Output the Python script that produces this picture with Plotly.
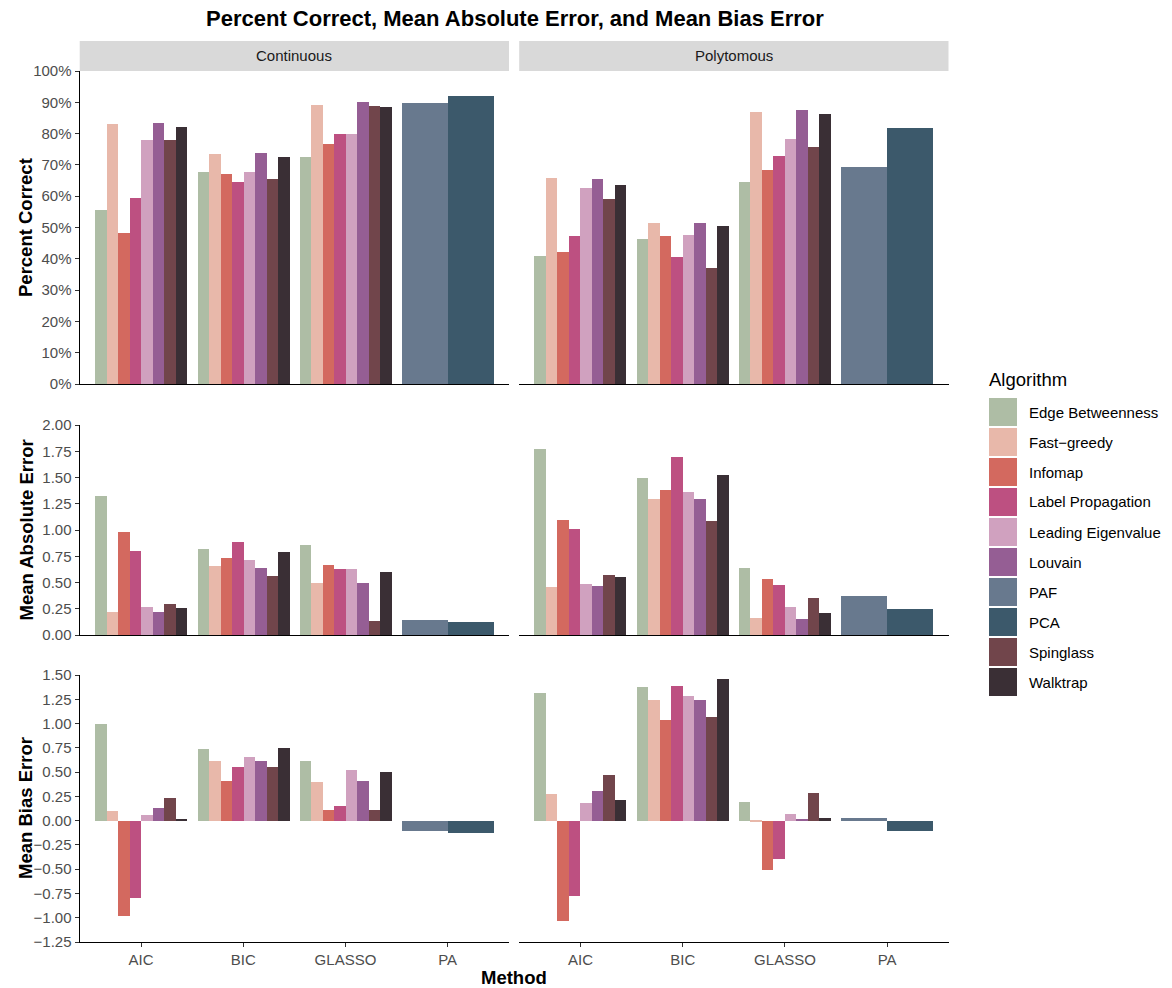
import pandas as pd
import plotly.graph_objects as go

# ---- categories -----------------------------------------------------------
methods = ["AIC", "BIC", "GLASSO", "PA"]
data_types = ["Continuous", "Polytomous"]
community_algorithms = [
    "Edge Betweenness", "Fast\u2212greedy", "Infomap", "Label Propagation",
    "Leading Eigenvalue", "Louvain", "Spinglass", "Walktrap",
]
factor_algorithms = ["PAF", "PCA"]
legend_order = [
    "Edge Betweenness", "Fast\u2212greedy", "Infomap", "Label Propagation",
    "Leading Eigenvalue", "Louvain", "PAF", "PCA", "Spinglass", "Walktrap",
]

# ---- percent correct (%), community algorithms in the order above ----------
pct_continuous_aic = [55.6, 83.1, 48.2, 59.4, 78.0, 83.4, 78.0, 82.1]
pct_continuous_bic = [67.7, 73.5, 67.1, 64.5, 67.7, 73.8, 65.5, 72.5]
pct_continuous_glasso = [72.5, 89.1, 76.7, 79.9, 79.9, 90.1, 88.8, 88.5]
pct_continuous_pa = [89.8, 92.0]

pct_polytomous_aic = [40.9, 65.8, 42.2, 47.3, 62.6, 65.5, 59.1, 63.6]
pct_polytomous_bic = [46.3, 51.4, 47.3, 40.6, 47.6, 51.4, 37.1, 50.5]
pct_polytomous_glasso = [64.5, 86.9, 68.4, 72.8, 78.3, 87.5, 75.7, 86.3]
pct_polytomous_pa = [69.3, 81.8]

# ---- mean absolute error ----------------------------------------------------
mae_continuous_aic = [1.32, 0.22, 0.98, 0.80, 0.27, 0.22, 0.30, 0.26]
mae_continuous_bic = [0.82, 0.66, 0.73, 0.89, 0.71, 0.64, 0.56, 0.79]
mae_continuous_glasso = [0.86, 0.50, 0.67, 0.63, 0.63, 0.50, 0.13, 0.60]
mae_continuous_pa = [0.14, 0.12]

mae_polytomous_aic = [1.77, 0.46, 1.10, 1.01, 0.49, 0.47, 0.57, 0.55]
mae_polytomous_bic = [1.50, 1.30, 1.38, 1.70, 1.36, 1.30, 1.09, 1.52]
mae_polytomous_glasso = [0.64, 0.16, 0.53, 0.48, 0.27, 0.15, 0.35, 0.21]
mae_polytomous_pa = [0.37, 0.25]

# ---- mean bias error --------------------------------------------------------
mbe_continuous_aic = [1.00, 0.10, -0.98, -0.80, 0.06, 0.13, 0.23, 0.015]
mbe_continuous_bic = [0.74, 0.61, 0.41, 0.55, 0.66, 0.61, 0.55, 0.75]
mbe_continuous_glasso = [0.61, 0.40, 0.11, 0.15, 0.52, 0.41, 0.11, 0.50]
mbe_continuous_pa = [-0.11, -0.13]

mbe_polytomous_aic = [1.31, 0.27, -1.03, -0.78, 0.18, 0.31, 0.47, 0.21]
mbe_polytomous_bic = [1.38, 1.24, 1.04, 1.39, 1.28, 1.24, 1.07, 1.46]
mbe_polytomous_glasso = [0.19, -0.01, -0.51, -0.40, 0.07, 0.015, 0.28, 0.03]
mbe_polytomous_pa = [0.03, -0.11]

# ---- styling ----------------------------------------------------------------
colors = {
    "Edge Betweenness": "#AEBDA5",
    "Fast\u2212greedy": "#E8B8AA",
    "Infomap": "#D3695F",
    "Label Propagation": "#BD5081",
    "Leading Eigenvalue": "#D0A1BF",
    "Louvain": "#955E94",
    "PAF": "#68798E",
    "PCA": "#3C596B",
    "Spinglass": "#71454B",
    "Walktrap": "#3A2F35",
}
FONT = "Liberation Sans, Arial, Helvetica, sans-serif"
W, H = 1172, 988

# ---- long table --------------------------------------------------------------
panel_values = {
    ("pct", "Continuous"): [pct_continuous_aic, pct_continuous_bic, pct_continuous_glasso, pct_continuous_pa],
    ("pct", "Polytomous"): [pct_polytomous_aic, pct_polytomous_bic, pct_polytomous_glasso, pct_polytomous_pa],
    ("mae", "Continuous"): [mae_continuous_aic, mae_continuous_bic, mae_continuous_glasso, mae_continuous_pa],
    ("mae", "Polytomous"): [mae_polytomous_aic, mae_polytomous_bic, mae_polytomous_glasso, mae_polytomous_pa],
    ("mbe", "Continuous"): [mbe_continuous_aic, mbe_continuous_bic, mbe_continuous_glasso, mbe_continuous_pa],
    ("mbe", "Polytomous"): [mbe_polytomous_aic, mbe_polytomous_bic, mbe_polytomous_glasso, mbe_polytomous_pa],
}
rows = []
for (metric, dtype), per_method in panel_values.items():
    for method, vals in zip(methods, per_method):
        algs = factor_algorithms if method == "PA" else community_algorithms
        n = len(algs)
        for k, (alg, v) in enumerate(zip(algs, vals)):
            # dodge: each group fills 0.9 of a category slot, split evenly
            w = 0.9 / n
            rows.append(dict(metric=metric, dtype=dtype, method=method,
                             algorithm=alg, value=v, width=w,
                             offset=-0.45 + k * w))
df = pd.DataFrame(rows)

metrics = ["pct", "mae", "mbe"]
fig = go.Figure()

for r, metric in enumerate(metrics):
    for c, dtype in enumerate(data_types):
        idx = r * 2 + c + 1
        sub = df[(df.metric == metric) & (df.dtype == dtype)]
        for alg in legend_order:
            d = sub[sub.algorithm == alg]
            if d.empty:
                continue
            fig.add_trace(go.Bar(
                x=d.method, y=d.value, width=d.width, offset=d.offset,
                name=alg, legendgroup=alg, showlegend=False,
                marker=dict(color=colors[alg], line=dict(width=0)),
                xaxis=f"x{idx}", yaxis=f"y{idx}",
            ))

# ---- axes --------------------------------------------------------------------
col_px = [(79.7, 509.0), (519.2, 948.5)]
row_px = [(71, 384), (425, 635), (675, 942)]
y_ranges = [[0, 100], [0, 2.0], [-1.25, 1.5]]
y_ticks = [
    [i * 10 for i in range(11)],
    [i * 0.25 for i in range(9)],
    [-1.25 + i * 0.25 for i in range(12)],
]
y_text = [
    [f"{v}%" for v in y_ticks[0]],
    [f"{v:.2f}" for v in y_ticks[1]],
    [f"{v:.2f}".replace("-", "\u2212") for v in y_ticks[2]],
]

layout_axes = {}
for r in range(3):
    for c in range(2):
        idx = r * 2 + c + 1
        xd = [col_px[c][0] / W, col_px[c][1] / W]
        yd = [1 - row_px[r][1] / H, 1 - row_px[r][0] / H]
        bottom = r == 2
        layout_axes[f"xaxis{idx}"] = dict(
            domain=xd, anchor=f"y{idx}", type="category",
            categoryorder="array", categoryarray=methods,
            range=[-0.6, 3.6], showgrid=False, zeroline=False,
            showline=True, linecolor="black", linewidth=1.3,
            ticks="outside" if bottom else "", ticklen=4, tickwidth=1.2,
            tickcolor="#333333", showticklabels=bottom,
            tickfont=dict(family=FONT, size=15, color="#4D4D4D"),
        )
        left = c == 0
        layout_axes[f"yaxis{idx}"] = dict(
            domain=yd, anchor=f"x{idx}", range=y_ranges[r],
            showgrid=False, zeroline=False,
            showline=left, linecolor="black", linewidth=1.3,
            ticks="outside" if left else "", ticklen=4, tickwidth=1.2,
            tickcolor="#333333", showticklabels=left,
            tickmode="array", tickvals=y_ticks[r], ticktext=y_text[r],
            tickfont=dict(family=FONT, size=15, color="#4D4D4D"),
        )

# ---- facet strips, titles -----------------------------------------------------
shapes = []
annotations = []
for c, dtype in enumerate(data_types):
    x0, x1 = col_px[c][0] / W, col_px[c][1] / W
    shapes.append(dict(type="rect", xref="paper", yref="paper",
                       x0=x0, x1=x1, y0=1 - 71 / H, y1=1 - 41 / H,
                       fillcolor="#D9D9D9", line=dict(width=0), layer="below"))
    annotations.append(dict(text=dtype, xref="paper", yref="paper",
                            x=(x0 + x1) / 2, y=1 - 56 / H, showarrow=False,
                            xanchor="center", yanchor="middle",
                            font=dict(family=FONT, size=15, color="#1A1A1A")))

y_titles = ["Percent Correct", "Mean Absolute Error", "Mean Bias Error"]
for r, t in enumerate(y_titles):
    annotations.append(dict(text=f"<b>{t}</b>", xref="paper", yref="paper",
                            x=25.5 / W, y=1 - (row_px[r][0] + row_px[r][1]) / 2 / H,
                            textangle=-90, showarrow=False,
                            xanchor="center", yanchor="middle",
                            font=dict(family=FONT, size=18.5, color="black")))

annotations.append(dict(text="<b>Method</b>", xref="paper", yref="paper",
                        x=514 / W, y=1 - 977 / H, showarrow=False,
                        xanchor="center", yanchor="middle",
                        font=dict(family=FONT, size=18.5, color="black")))
annotations.append(dict(
    text="<b>Percent Correct, Mean Absolute Error, and Mean Bias Error</b>",
    xref="paper", yref="paper", x=514.5 / W, y=1 - 18 / H, showarrow=False,
    xanchor="center", yanchor="middle",
    font=dict(family=FONT, size=22, color="black")))

# ---- legend: square keys with labels ----------------------------------------
legend_left, key_size, key_pitch, first_key_top = 989, 28, 30, 398
annotations.append(dict(text="Algorithm", xref="paper", yref="paper",
                        x=(legend_left - 2) / W, y=1 - 379 / H, showarrow=False,
                        xanchor="left", yanchor="middle",
                        font=dict(family=FONT, size=18.5, color="black")))
for i, alg in enumerate(legend_order):
    top = first_key_top + i * key_pitch
    shapes.append(dict(type="rect", xref="paper", yref="paper",
                       x0=legend_left / W, x1=(legend_left + key_size) / W,
                       y0=1 - (top + key_size) / H, y1=1 - top / H,
                       fillcolor=colors[alg], line=dict(width=0)))
    annotations.append(dict(text=alg, xref="paper", yref="paper",
                            x=(legend_left + key_size + 10) / W,
                            y=1 - (top + key_size / 2) / H, showarrow=False,
                            xanchor="left", yanchor="middle",
                            font=dict(family=FONT, size=15, color="black")))

fig.update_layout(
    width=W, height=H,
    margin=dict(l=0, r=0, t=0, b=0, autoexpand=False),
    paper_bgcolor="white", plot_bgcolor="white",
    barmode="overlay", bargap=0, showlegend=False,
    shapes=shapes, annotations=annotations,
    font=dict(family=FONT, color="black"),
    **layout_axes,
)

fig.write_html("out.html")
